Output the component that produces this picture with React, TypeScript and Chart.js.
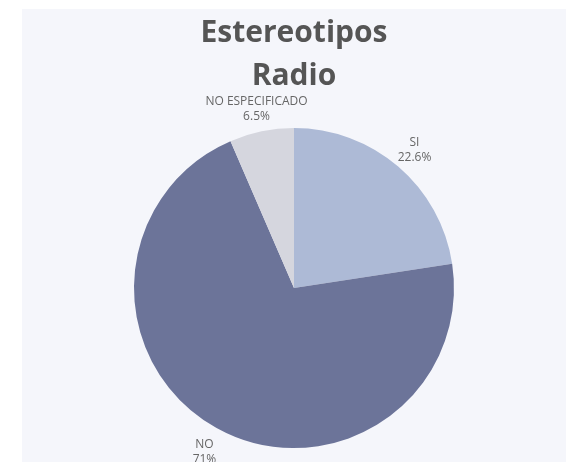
import React, { useEffect, useRef } from "react";
import { Chart, registerables } from "chart.js";

Chart.register(...registerables);

const titleLines = ["Estereotipos", "Radio"];
const categories = ["SI", "NO", "NO ESPECIFICADO"];
const values = [22.6, 71, 6.5];
const colors = ["#adbad6", "#6c7499", "#d5d6de"];

const FONT = "'Open Sans', 'Noto Sans', sans-serif";

const titlePlugin = {
  id: "customTitle",
  afterDraw(chart: any) {
    const ctx = chart.ctx;
    const area = chart.chartArea;
    const cx = (area.left + area.right) / 2;
    ctx.save();
    ctx.fillStyle = "#555555";
    ctx.font = `bold 30px ${FONT}`;
    ctx.textAlign = "center";
    ctx.textBaseline = "alphabetic";
    titleLines.forEach((line, i) => {
      ctx.fillText(line, cx, 33 + i * 43);
    });
    ctx.restore();
  },
};

const outsideLabels = {
  id: "outsideLabels",
  afterDatasetsDraw(chart: any) {
    const ctx = chart.ctx;
    const meta = chart.getDatasetMeta(0);
    const fontSize = 12;
    const lineH = 15;
    const dist = 25;
    ctx.save();
    ctx.font = `${fontSize}px ${FONT}`;
    ctx.fillStyle = "#666666";
    ctx.textAlign = "center";
    ctx.textBaseline = "middle";
    meta.data.forEach((arc: any, i: number) => {
      const p = arc.getProps(["x", "y", "startAngle", "endAngle", "outerRadius"], true);
      const mid = (p.startAngle + p.endAngle) / 2;
      const vx = Math.cos(mid);
      const vy = Math.sin(mid);
      const cx = p.x + vx * (p.outerRadius + dist);
      const cy = p.y + vy * (p.outerRadius + dist) + 2;
      const lines = [categories[i], `${Number(values[i].toFixed(1))}%`];
      const h = lines.length * lineH;
      lines.forEach((l, k) => {
        ctx.fillText(l, cx, cy - h / 2 + lineH / 2 + k * lineH);
      });
    });
    ctx.restore();
  },
};

export default function App() {
  const ref = useRef<HTMLCanvasElement>(null);
  useEffect(() => {
    if (!ref.current) return;
    const chart = new Chart(ref.current, {
      type: "pie",
      data: {
        labels: categories,
        datasets: [
          {
            data: values,
            backgroundColor: colors,
            borderWidth: 0,
            hoverOffset: 0,
          },
        ],
      },
      options: {
        responsive: false,
        animation: false,
        events: [],
        layout: { padding: { left: 112, right: 112, top: 119, bottom: 14 } },
        plugins: {
          legend: { display: false },
          title: { display: false },
          tooltip: { enabled: false },
        },
      },
      plugins: [titlePlugin, outsideLabels],
    });
    return () => chart.destroy();
  }, []);
  return (
    <div
      style={{
        position: "absolute",
        left: 0,
        top: 0,
        width: 566,
        height: 462,
        overflow: "hidden",
        background: "#ffffff",
      }}
    >
      <div
        style={{
          position: "absolute",
          left: 22,
          top: 9,
          width: 544,
          height: 453,
          background: "#f5f6fb",
        }}
      >
        <canvas ref={ref} width={544} height={453} style={{ display: "block" }} />
      </div>
    </div>
  );
}
